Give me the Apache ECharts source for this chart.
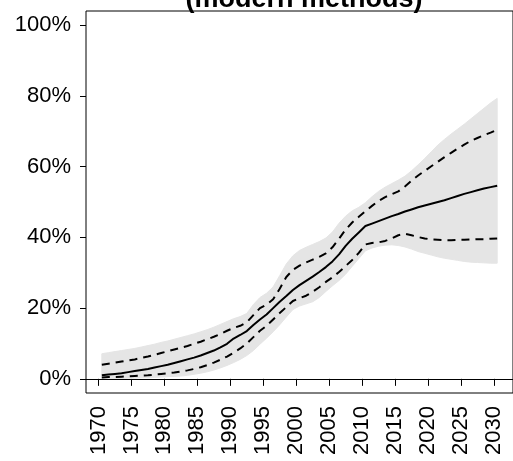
<!DOCTYPE html>
<html>
<head>
<meta charset="utf-8">
<script src="https://cdn.jsdelivr.net/npm/echarts@6/dist/echarts.min.js"></script>
<style>
  html, body { margin: 0; padding: 0; background: #fff; }
  #chart { width: 513px; height: 461px; }
</style>
</head>
<body>
<div id="chart"></div>
<script>
// years (values are mid-year estimates)
const years = [
  1970, 1971, 1972, 1973, 1974, 1975, 1976, 1977, 1978, 1979,
  1980, 1981, 1982, 1983, 1984, 1985, 1986, 1987, 1988, 1989,
  1990, 1991, 1992, 1993, 1994, 1995, 1996, 1997, 1998, 1999,
  2000, 2001, 2002, 2003, 2004, 2005, 2006, 2007, 2008, 2009,
  2010, 2011, 2012, 2013, 2014, 2015, 2016, 2017, 2018, 2019,
  2020, 2021, 2022, 2023, 2024, 2025, 2026, 2027, 2028, 2029, 2030
];

// median (solid)
const median = [
  1.0, 1.2, 1.4, 1.6, 1.9, 2.2, 2.5, 2.8, 3.2, 3.6,
  4.0, 4.5, 5.0, 5.5, 6.0, 6.6, 7.3, 8.0, 8.9, 9.9,
  11.4, 12.4, 13.5, 15.2, 16.8, 18.2, 20.0, 21.8, 23.4, 25.1,
  26.5, 27.7, 28.9, 30.2, 31.6, 33.2, 35.2, 37.6, 39.6, 41.4,
  43.2, 43.9, 44.6, 45.3, 46.0, 46.6, 47.3, 47.9, 48.5, 49.0,
  49.5, 50.0, 50.5, 51.1, 51.7, 52.3, 52.8, 53.3, 53.8, 54.2, 54.6
];

// inner interval (dashed)
const upper80 = [
  4.0, 4.3, 4.6, 4.9, 5.2, 5.5, 5.9, 6.3, 6.8, 7.3,
  7.8, 8.3, 8.8, 9.3, 9.9, 10.5, 11.2, 11.9, 12.7, 13.6,
  14.4, 15.0, 16.0, 18.0, 20.0, 21.0, 22.5, 25.5, 28.8, 30.8,
  32.0, 32.9, 33.7, 34.5, 35.5, 37.2, 39.6, 42.2, 44.2, 45.8,
  47.4, 48.9, 50.3, 51.4, 52.2, 53.0, 54.4, 56.0, 57.5, 58.8,
  60.1, 61.4, 62.7, 63.9, 65.1, 66.2, 67.3, 68.1, 68.9, 69.6, 70.4
];
const lower80 = [
  0.4, 0.5, 0.5, 0.6, 0.7, 0.8, 0.9, 1.0, 1.2, 1.4,
  1.6, 1.8, 2.1, 2.4, 2.8, 3.3, 3.9, 4.6, 5.4, 6.3,
  7.4, 8.6, 10.0, 11.8, 13.6, 15.0, 16.8, 18.6, 20.3, 22.0,
  22.8, 23.5, 24.6, 25.9, 27.4, 28.7, 30.2, 31.9, 33.6, 35.6,
  38.0, 38.4, 38.6, 39.0, 39.7, 40.6, 41.0, 40.6, 40.1, 39.7,
  39.4, 39.3, 39.2, 39.2, 39.3, 39.3, 39.4, 39.5, 39.5, 39.6, 39.7
];

// outer interval (grey band)
const upper95 = [
  7.1, 7.4, 7.7, 8.0, 8.3, 8.6, 9.0, 9.4, 9.8, 10.3,
  10.7, 11.2, 11.7, 12.2, 12.7, 13.3, 13.9, 14.6, 15.4, 16.2,
  17.0, 17.6, 18.5, 21.0, 23.0, 24.2, 26.0, 29.2, 32.5, 34.8,
  36.3, 37.2, 38.0, 38.8, 39.8, 41.5, 44.0, 46.0, 47.5, 48.5,
  49.8, 51.5, 53.0, 54.2, 55.2, 56.2, 57.3, 58.8, 60.5, 62.3,
  64.2, 66.1, 67.7, 69.2, 70.6, 72.0, 73.5, 75.0, 76.5, 78.0, 79.3
];
const lower95 = [
  0.0, 0.0, 0.1, 0.1, 0.2, 0.2, 0.3, 0.3, 0.4, 0.5,
  0.6, 0.7, 0.8, 1.0, 1.3, 1.6, 2.0, 2.5, 3.1, 3.8,
  4.6, 5.5, 6.6, 8.0, 9.8, 11.5, 13.3, 15.3, 17.5, 19.6,
  20.6, 21.2, 21.8, 23.0, 24.7, 26.3, 27.8, 29.6, 31.8, 34.0,
  36.2, 37.0, 37.5, 37.8, 37.9, 37.7, 37.3, 36.7, 36.0, 35.5,
  35.0, 34.5, 34.1, 33.8, 33.5, 33.2, 33.0, 32.9, 32.8, 32.7, 32.7
];

const xTicks = [1970, 1975, 1980, 1985, 1990, 1995, 2000, 2005, 2010, 2015, 2020, 2025, 2030];
const yTicks = [0, 20, 40, 60, 80, 100];

const MID = 0.5;
const FONT = "'Liberation Sans', Arial, Helvetica, sans-serif";

const pts = (arr) => arr.map((v, i) => [years[i] + MID, v]);

const chart = echarts.init(document.getElementById("chart"), null, { renderer: "canvas" });

const dashed = {
  type: "line",
  showSymbol: false,
  silent: true,
  z: 4,
  lineStyle: { color: "#000", width: 2, type: [8, 6] }
};

// grey band polygon: upper edge forward, lower edge back
function renderBand(params, api) {
  const top = years.map((y, i) => api.coord([y + MID, upper95[i]]));
  const bot = years.map((y, i) => api.coord([y + MID, lower95[i]])).reverse();
  return {
    type: "polygon",
    shape: { points: top.concat(bot) },
    style: { fill: "#e5e5e5", stroke: "#e5e5e5", lineWidth: 1 }
  };
}

chart.setOption({
  animation: false,
  backgroundColor: "#fff",
  grid: {
    left: 86, right: -8, top: 11, bottom: 68,
    show: true, borderColor: "#000", borderWidth: 1, backgroundColor: "transparent"
  },
  graphic: [{
    type: "text",
    x: 304, y: 13,
    style: {
      text: "(modern methods)",
      font: "bold 27px " + FONT,
      fill: "#000",
      textAlign: "center",
      textVerticalAlign: "bottom"
    }
  }],
  xAxis: {
    type: "value",
    min: 1968.1, max: 2032.9,
    splitLine: { show: false },
    axisLine: { show: false },
    axisTick: { show: true, length: 7, lineStyle: { color: "#000" }, customValues: xTicks },
    axisLabel: {
      customValues: xTicks, rotate: 90, margin: 13,
      color: "#000", fontSize: 22, fontFamily: FONT,
      formatter: (v) => String(v)
    }
  },
  yAxis: {
    type: "value",
    min: -4, max: 104,
    splitLine: { show: false },
    axisLine: { show: false },
    axisTick: { show: true, length: 6, lineStyle: { color: "#000" }, customValues: yTicks },
    axisLabel: {
      customValues: yTicks, margin: 15,
      color: "#000", fontSize: 22, fontFamily: FONT,
      formatter: (v) => v + "%"
    }
  },
  series: [
    {
      type: "custom", silent: true, z: 1,
      data: [[years[0] + MID, 0]],
      renderItem: renderBand
    },
    Object.assign({ data: pts(upper80) }, dashed),
    Object.assign({ data: pts(lower80) }, dashed),
    {
      type: "line", showSymbol: false, silent: true, z: 5,
      data: pts(median),
      lineStyle: { color: "#000", width: 2 },
      markLine: {
        silent: true, symbol: "none", label: { show: false },
        lineStyle: { color: "#000", width: 1, type: "solid" },
        data: [{ yAxis: 0 }]
      }
    }
  ]
});
</script>
</body>
</html>
